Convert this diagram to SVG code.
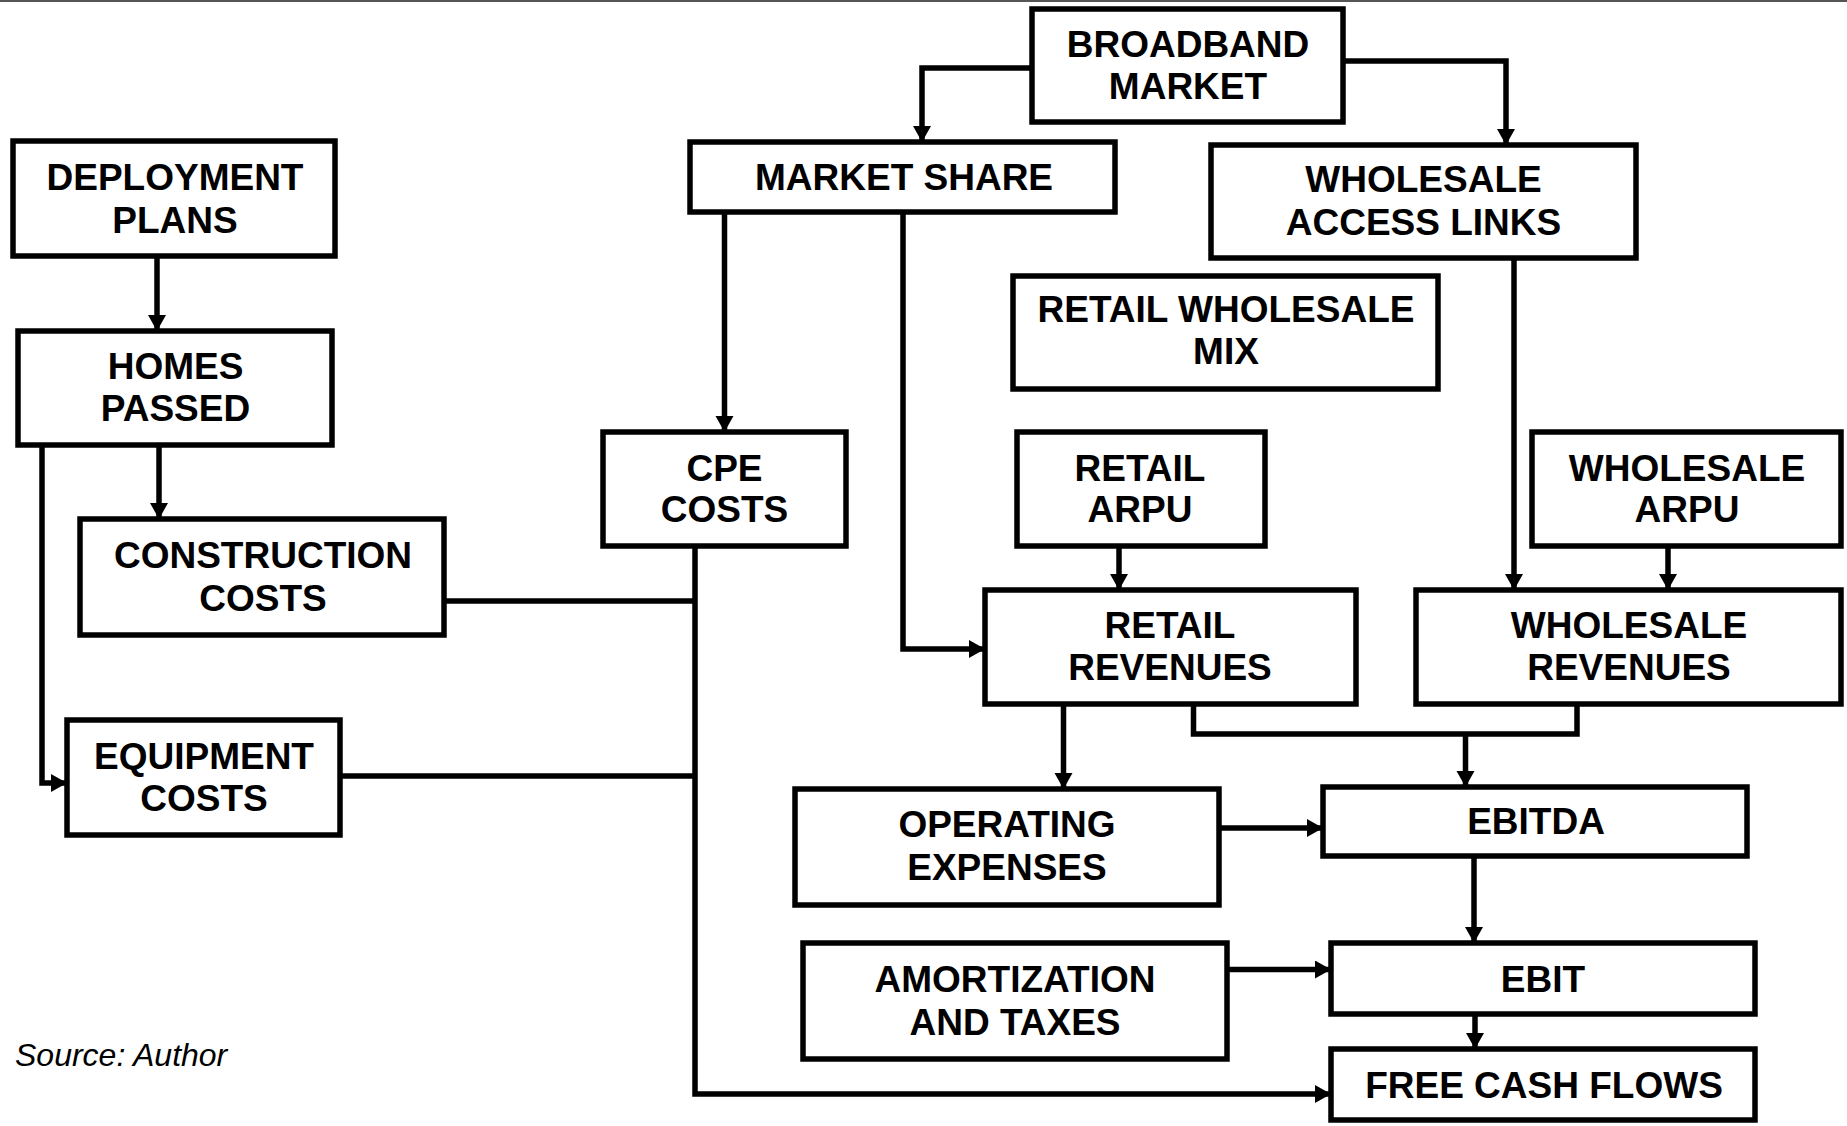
<svg xmlns="http://www.w3.org/2000/svg" width="1847" height="1126" viewBox="0 0 1847 1126">
<style>
.box{fill:#fff;stroke:#000;stroke-width:5.5}
.t{font-family:"Liberation Sans",Arial,sans-serif;font-weight:bold;font-size:37px;fill:#000;text-anchor:middle}
.c{fill:none;stroke:#000;stroke-width:5.5}
.src{font-family:"Liberation Sans",Arial,sans-serif;font-style:italic;font-size:32px;fill:#000}
</style>
<defs>
<marker id="ah" markerUnits="userSpaceOnUse" markerWidth="17" markerHeight="19" refX="16" refY="9" orient="auto">
<path d="M0,0 L16,9 L0,18 z" fill="#000"/>
</marker>
</defs>
<rect width="1847" height="1126" fill="#fff"/>
<line x1="0" y1="1" x2="1847" y2="1" stroke="#555" stroke-width="2"/>
<g id="connectors">
<path class="c" d="M1032,68 H922 V142" marker-end="url(#ah)"/>
<path class="c" d="M1343,61 H1506 V145" marker-end="url(#ah)"/>
<path class="c" d="M157,256 V331" marker-end="url(#ah)"/>
<path class="c" d="M159,445 V519" marker-end="url(#ah)"/>
<path class="c" d="M42,445 V783 H67" marker-end="url(#ah)"/>
<path class="c" d="M724.5,212 V432" marker-end="url(#ah)"/>
<path class="c" d="M903,212 V649 H985" marker-end="url(#ah)"/>
<path class="c" d="M1514,258 V590" marker-end="url(#ah)"/>
<path class="c" d="M1119,546 V590" marker-end="url(#ah)"/>
<path class="c" d="M1668,546 V590" marker-end="url(#ah)"/>
<path class="c" d="M1063.5,704 V789" marker-end="url(#ah)"/>
<path class="c" d="M1193.5,704 V734 H1577 V704"/>
<path class="c" d="M1465.5,734 V787" marker-end="url(#ah)"/>
<path class="c" d="M1219,828 H1323" marker-end="url(#ah)"/>
<path class="c" d="M1474,856 V943" marker-end="url(#ah)"/>
<path class="c" d="M1227,969.5 H1331" marker-end="url(#ah)"/>
<path class="c" d="M1475,1014 V1049" marker-end="url(#ah)"/>
<path class="c" d="M695,546 V1094 H1331" marker-end="url(#ah)"/>
<path class="c" d="M444,601 H695"/>
<path class="c" d="M340,776 H695"/>
</g>
<g id="broadband_market"><rect class="box" x="1032" y="9" width="311" height="113"/><text class="t" x="1188" y="57">BROADBAND</text><text class="t" x="1188" y="99">MARKET</text></g>
<g id="market_share"><rect class="box" x="690" y="142" width="425" height="70"/><text class="t" x="904" y="190">MARKET SHARE</text></g>
<g id="wholesale_access_links"><rect class="box" x="1211" y="145" width="425" height="113"/><text class="t" x="1423.5" y="192">WHOLESALE</text><text class="t" x="1423.5" y="235">ACCESS LINKS</text></g>
<g id="deployment_plans"><rect class="box" x="13" y="141" width="322" height="115"/><text class="t" x="175" y="190">DEPLOYMENT</text><text class="t" x="175" y="232.5">PLANS</text></g>
<g id="homes_passed"><rect class="box" x="18" y="331" width="314" height="114"/><text class="t" x="175.5" y="378.5">HOMES</text><text class="t" x="175.5" y="421">PASSED</text></g>
<g id="retail_wholesale_mix"><rect class="box" x="1013" y="276" width="425" height="113"/><text class="t" x="1226" y="322">RETAIL WHOLESALE</text><text class="t" x="1226" y="364">MIX</text></g>
<g id="cpe_costs"><rect class="box" x="603" y="432" width="243" height="114"/><text class="t" x="724.5" y="481">CPE</text><text class="t" x="724.5" y="522">COSTS</text></g>
<g id="retail_arpu"><rect class="box" x="1017" y="432" width="248" height="114"/><text class="t" x="1140" y="481">RETAIL</text><text class="t" x="1140" y="522">ARPU</text></g>
<g id="wholesale_arpu"><rect class="box" x="1532" y="432" width="309" height="114"/><text class="t" x="1687" y="481">WHOLESALE</text><text class="t" x="1687" y="522">ARPU</text></g>
<g id="construction_costs"><rect class="box" x="80" y="519" width="364" height="116"/><text class="t" x="263" y="568">CONSTRUCTION</text><text class="t" x="263" y="610.5">COSTS</text></g>
<g id="retail_revenues"><rect class="box" x="985" y="590" width="371" height="114"/><text class="t" x="1170" y="637.5">RETAIL</text><text class="t" x="1170" y="680">REVENUES</text></g>
<g id="wholesale_revenues"><rect class="box" x="1416" y="590" width="425" height="114"/><text class="t" x="1629" y="637.5">WHOLESALE</text><text class="t" x="1629" y="680">REVENUES</text></g>
<g id="equipment_costs"><rect class="box" x="67" y="720" width="273" height="115"/><text class="t" x="204" y="768.5">EQUIPMENT</text><text class="t" x="204" y="811">COSTS</text></g>
<g id="operating_expenses"><rect class="box" x="795" y="789" width="424" height="116"/><text class="t" x="1007" y="836.5">OPERATING</text><text class="t" x="1007" y="880">EXPENSES</text></g>
<g id="ebitda"><rect class="box" x="1323" y="787" width="424" height="69"/><text class="t" x="1536" y="834">EBITDA</text></g>
<g id="amortization_and_taxes"><rect class="box" x="803" y="943" width="424" height="116"/><text class="t" x="1015" y="992">AMORTIZATION</text><text class="t" x="1015" y="1034.5">AND TAXES</text></g>
<g id="ebit"><rect class="box" x="1331" y="943" width="424" height="71"/><text class="t" x="1543" y="992">EBIT</text></g>
<g id="free_cash_flows"><rect class="box" x="1331" y="1049" width="424" height="71"/><text class="t" x="1544" y="1098">FREE CASH FLOWS</text></g>
<text class="src" x="15" y="1066">Source: Author</text>
</svg>
